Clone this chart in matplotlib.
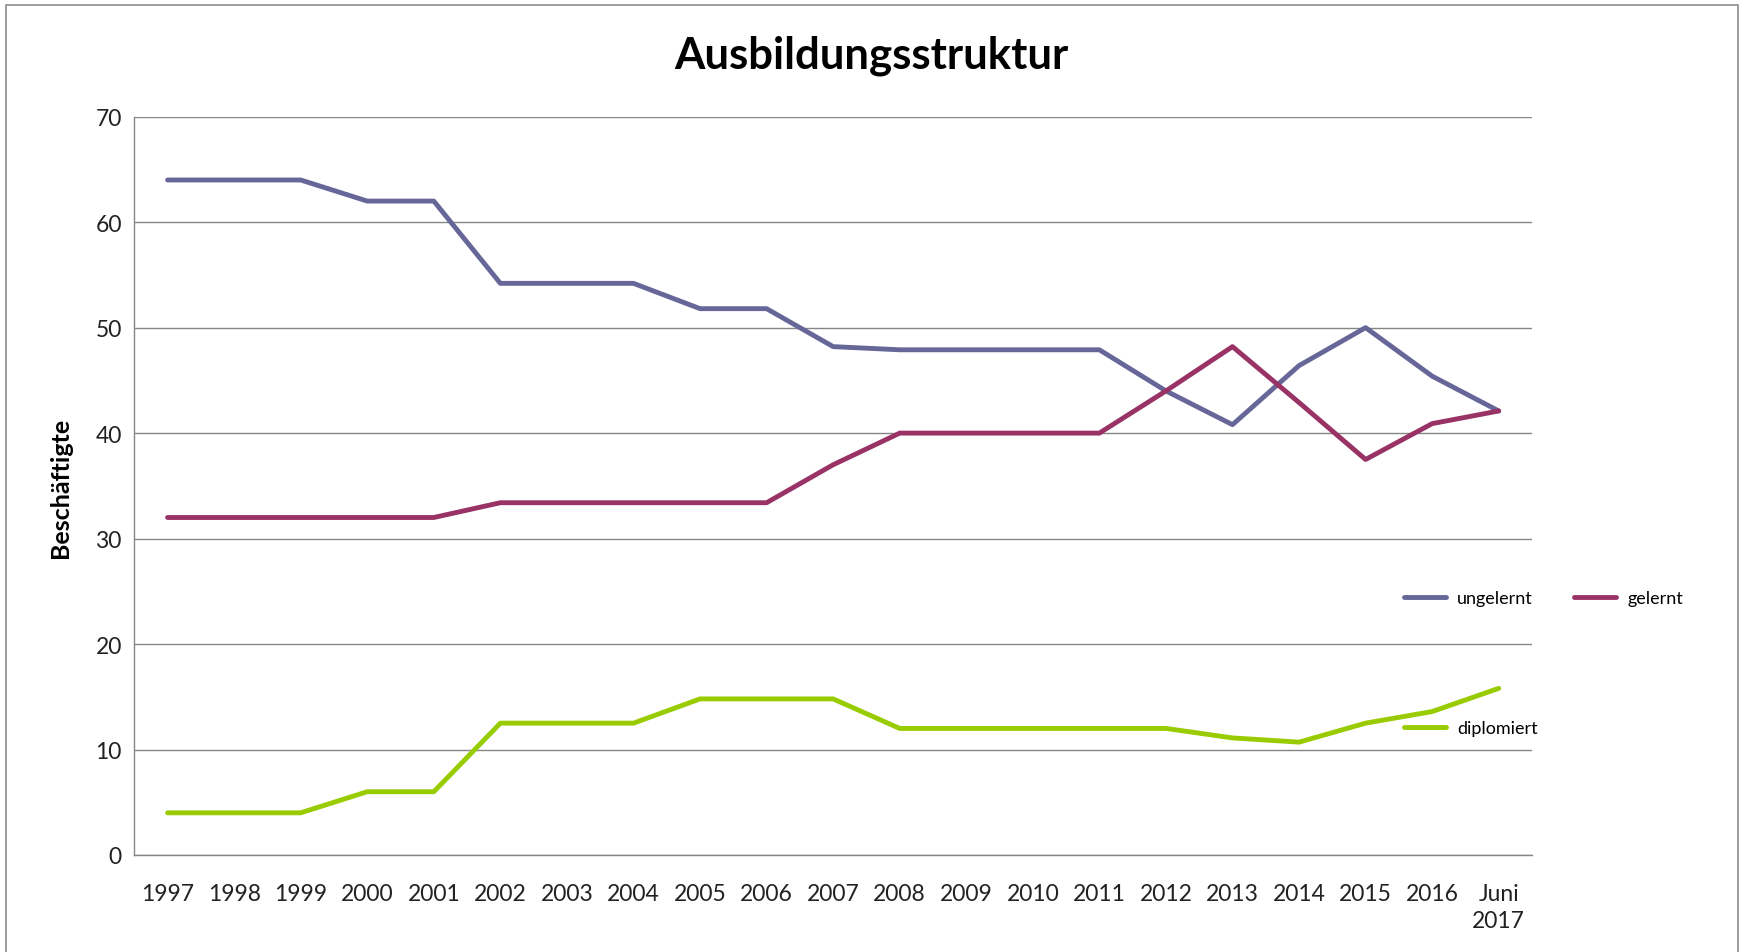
import matplotlib
matplotlib.use("Agg")
import matplotlib.pyplot as plt
from matplotlib.patches import Rectangle

categories = ["1997", "1998", "1999", "2000", "2001", "2002", "2003", "2004", "2005", "2006",
              "2007", "2008", "2009", "2010", "2011", "2012", "2013", "2014", "2015", "2016",
              "Juni\n2017"]
ungelernt = [64, 64, 64, 62, 62, 54.2, 54.2, 54.2, 51.8, 51.8,
             48.2, 47.9, 47.9, 47.9, 47.9, 44.0, 40.8, 46.4, 50.0, 45.4, 42.1]
gelernt = [32, 32, 32, 32, 32, 33.4, 33.4, 33.4, 33.4, 33.4,
           37.0, 40.0, 40.0, 40.0, 40.0, 44.0, 48.2, 42.9, 37.5, 40.9, 42.1]
diplomiert = [4, 4, 4, 6, 6, 12.5, 12.5, 12.5, 14.8, 14.8,
              14.8, 12.0, 12.0, 12.0, 12.0, 12.0, 11.1, 10.7, 12.5, 13.6, 15.8]
yticks = [0, 10, 20, 30, 40, 50, 60, 70]

W, H = 1741, 953
fig = plt.figure(figsize=(W / 100, H / 100), dpi=100)
plt.rcParams['font.family'] = ['Lato', 'DejaVu Sans']

left, right, top, bottom = 134.3, 1532, 117.7, 856
ax = fig.add_axes([left / W, 1 - bottom / H, (right - left) / W, (bottom - top) / H])

grid_col = "#868686"
x = list(range(len(categories)))
lw = 3.5
l1, = ax.plot(x, ungelernt, color="#666699", lw=lw, label="ungelernt", solid_joinstyle="round", solid_capstyle="round")
l2, = ax.plot(x, gelernt, color="#993366", lw=lw, label="gelernt", solid_joinstyle="round", solid_capstyle="round")
l3, = ax.plot(x, diplomiert, color="#99CC00", lw=lw, label="diplomiert", solid_joinstyle="round", solid_capstyle="round")

ax.set_xlim(-0.5, len(categories) - 0.5)
ax.set_ylim(0, 70)
ax.set_yticks(yticks)
ax.set_yticklabels([str(v) for v in yticks])
ax.set_xticks(x)
ax.set_xticklabels(categories, linespacing=1.35)
ax.tick_params(axis='both', length=0, labelsize=16.5, colors="#222222")
ax.tick_params(axis='x', pad=20)
ax.tick_params(axis='y', pad=9)
ax.yaxis.grid(True, color=grid_col, lw=1.0)
ax.set_axisbelow(True)
for s in ["top", "right"]:
    ax.spines[s].set_visible(False)
for s in ["left", "bottom"]:
    ax.spines[s].set_color(grid_col)
    ax.spines[s].set_linewidth(1.0)

fig.text(871.6 / W, 1 - 55.5 / H, "Ausbildungsstruktur", ha="center", va="center",
         fontsize=31.5, fontweight="bold")
fig.text(60 / W, 1 - 487.5 / H, "Beschäftigte", ha="center", va="center",
         rotation=90, fontsize=18, fontweight="bold")

leg = fig.legend([l1, l3, l2], ["ungelernt", "diplomiert", "gelernt"], ncol=2,
                 loc="upper left", bbox_to_anchor=(1404 / W, 1 - 591 / H),
                 frameon=False, fontsize=13, handlelength=2.35, handletextpad=0.6,
                 columnspacing=2.0, labelspacing=6.32, borderpad=0, borderaxespad=0)

fig.patches.append(Rectangle((6 / W, -0.05), (1738 - 6) / W, 1.05 - 6 / H,
                             transform=fig.transFigure, fill=False,
                             edgecolor="#8c8c8c", lw=1.2))

fig.savefig("out.png", dpi=100)
